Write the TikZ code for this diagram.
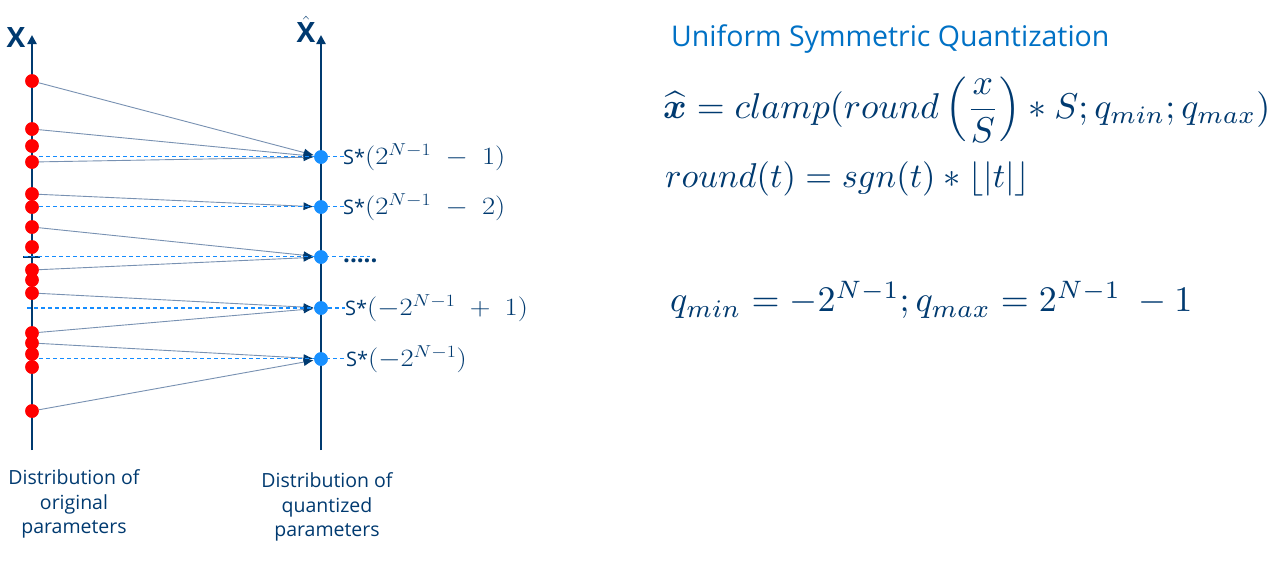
\documentclass[tikz,border=0pt]{standalone}
\usepackage[no-math]{fontspec}
\setmainfont{Open Sans}
\setsansfont{Open Sans}
\usepackage{amsmath}
\usepackage{graphicx}
\usetikzlibrary{arrows.meta}
\definecolor{navy}{RGB}{0,58,112}
\definecolor{intelblue}{RGB}{0,113,197}
\definecolor{qblue}{RGB}{24,144,255}
\definecolor{dashblue}{RGB}{20,140,255}
\definecolor{maplinec}{RGB}{120,145,178}
\newcommand{\qlbl}[1]{S*{\fontsize{26}{26}\selectfont\scalebox{1.15}[1]{$#1$}}}
\tikzset{
  axisline/.style={navy, line width=2.6pt, -{Triangle[width=9pt,length=9pt]}},
  reddot/.style={circle, fill=red, inner sep=0pt, minimum size=13.5pt},
  bluedot/.style={circle, fill=qblue, inner sep=0pt, minimum size=13.5pt},
  mapline/.style={maplinec, line width=0.9pt, -{Latex[length=10pt,width=8pt,color=navy]}, shorten >=0.5pt},
  qdash/.style={dashblue, line width=1.3pt, dash pattern=on 4pt off 3pt},
  qlabel/.style={anchor=west, inner sep=0pt, text=navy, font=\fontsize{20}{22}\selectfont},
  bottomlabel/.style={align=center, text=navy, font=\fontsize{19.5}{24.5}\selectfont, inner sep=0pt},
  formula/.style={anchor=west, inner sep=0pt, text=navy},
}
\begin{document}
\begin{tikzpicture}[x=1pt,y=-1pt]
\useasboundingbox[fill=white] (0,0) rectangle (1282,568);
% axes
\draw[axisline] (32,450) -- (32,35);
\draw[axisline] (321,450) -- (321,35);
\node[text=navy, font=\fontsize{28}{28}\selectfont\bfseries, inner sep=0pt] (xlab) at (16,38) {X};
\node[text=navy, inner sep=0pt] (xhlab) at (306,29) {\fontsize{28}{28}\selectfont$\hat{\text{\bfseries X}}$};
% tick
\draw[navy, line width=2pt] (23,257) -- (40,257);
% red dots
\foreach \y [count=\i] in {81,129,146,162,194,207,227,247,270,280,293,333,343,354,367,411} {
  \node[reddot] (r\i) at (32,\y) {};
}
% blue dots
\foreach \y [count=\i] in {157,207,257,308,359} {
  \node[bluedot] (b\i) at (321,\y) {};
}
% mapping arrows
\draw[mapline] (r1) -- (b1);
\draw[mapline] (r2) -- (b1);
\draw[mapline] (r4) -- (b1);
\draw[mapline] (r5) -- (b2);
\draw[mapline] (r7) -- (b3);
\draw[mapline] (r9) -- (b3);
\draw[mapline] (r11) -- (b4);
\draw[mapline] (r12) -- (b4);
\draw[mapline] (r13) -- (b5);
\draw[mapline] (r16) -- (b5);
% dashed level lines
\coordinate (ds1) at (32,156.5); \coordinate (de1) at (345,156.5);
\coordinate (ds2) at (32,206.5); \coordinate (de2) at (345,206.5);
\coordinate (ds3) at (24,256.5); \coordinate (de3) at (370,256.5);
\coordinate (ds4) at (27,308); \coordinate (de4) at (345,308);
\coordinate (ds5) at (32,358.5); \coordinate (de5) at (345,358.5);
\draw[qdash] (ds1) -- (de1);
\draw[qdash] (ds2) -- (de2);
\draw[qdash] (ds3) -- (de3);
\draw[qdash] (ds4) -- (de4);
\draw[qdash] (ds5) -- (de5);
% dots on top of the dashed lines
\foreach \y in {81,129,146,162,194,207,227,247,270,280,293,333,343,354,367,411} {
  \fill[red] (32,\y) circle (6.75pt);
}
\foreach \y in {157,207,257,308,359} {
  \fill[qblue] (321,\y) circle (6.75pt);
}
% level labels
\node[qlabel] (l1) at (343,157) {\qlbl{(2^{N-1}\;-\;1)}};
\node[qlabel] (l2) at (343,207) {\qlbl{(2^{N-1}\;-\;2)}};
\node[qlabel, font=\fontsize{24}{24}\selectfont\bfseries] (l3) at (343,261) {.....};
\node[qlabel] (l4) at (345,308) {\qlbl{(-2^{N-1}\;+\;1)}};
\node[qlabel] (l5) at (346,359) {\qlbl{(-2^{N-1})}};
% bottom labels
\node[bottomlabel] (bl1) at (74,504) {Distribution of\\original\\parameters};
\node[bottomlabel] (bl2) at (327,507) {Distribution of\\quantized\\parameters};
% right side
\node[anchor=west, inner sep=0pt, text=intelblue, font=\fontsize{28.5}{32}\selectfont] (title) at (671,39) {Uniform Symmetric Quantization};
\node[formula] (f1) at (663,110) {\resizebox{607pt}{!}{$\widehat{\boldsymbol{x}} = clamp(round\left(\dfrac{x}{S}\right) * S; q_{min}; q_{max})$}};
\node[formula] (f2) at (665,179) {\resizebox{365pt}{!}{$round(t) = sgn(t) * \lfloor|t|\rfloor$}};
\node[formula] (f3) at (670,300) {\resizebox{522pt}{!}{$q_{min} = -2^{N-1}; q_{max} = 2^{N-1}\ -1$}};
\end{tikzpicture}
\end{document}
